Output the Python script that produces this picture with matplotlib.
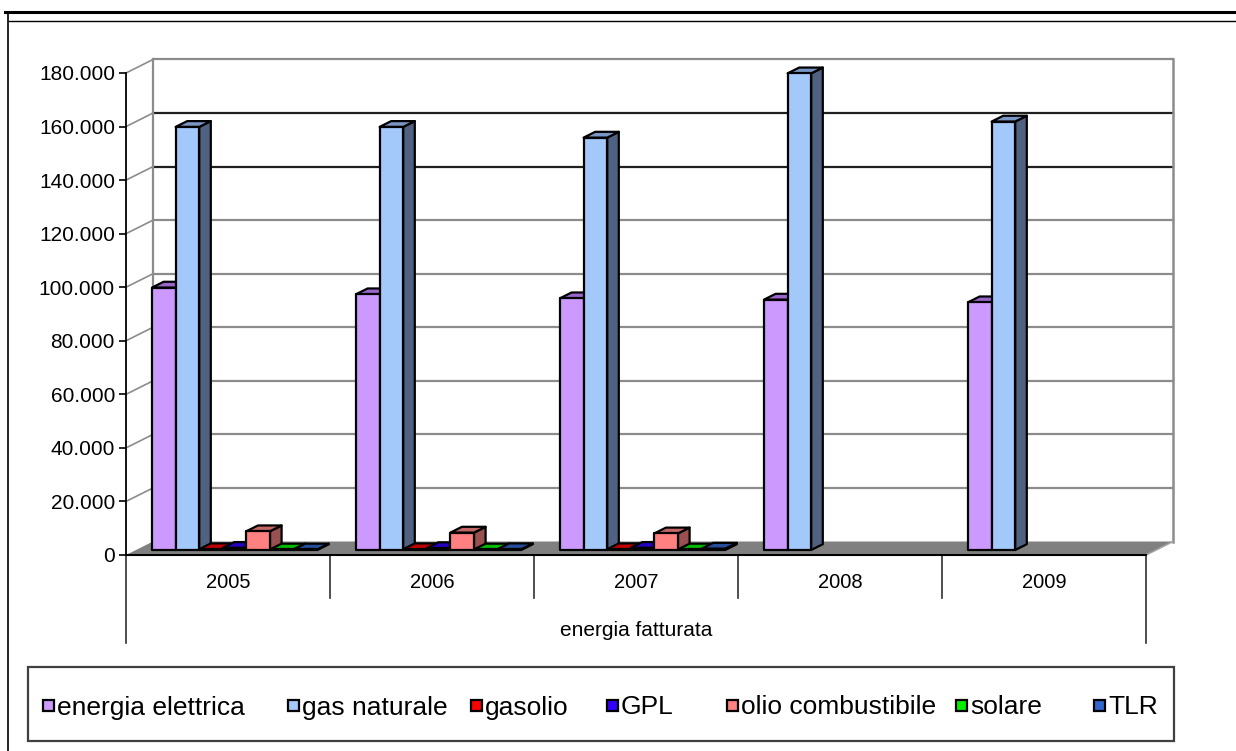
import matplotlib
matplotlib.use("Agg")
import matplotlib.pyplot as plt
from matplotlib.patches import Polygon, Rectangle
from matplotlib.lines import Line2D

plt.rcParams['font.family'] = ['Liberation Sans', 'DejaVu Sans']

# ---- data -------------------------------------------------------------
years = ['2005', '2006', '2007', '2008', '2009']
series = ['energia elettrica', 'gas naturale', 'gasolio', 'GPL',
          'olio combustibile', 'solare', 'TLR']
energia_elettrica = [98000, 95500, 94000, 93500, 92500]
gas_naturale = [158000, 158000, 154000, 178000, 160000]
gasolio = [300, 300, 300, 0, 0]
gpl = [800, 700, 800, 0, 0]
olio_combustibile = [7000, 6500, 6200, 0, 0]
solare = [200, 200, 200, 0, 0]
tlr = [200, 300, 500, 0, 0]
values = [energia_elettrica, gas_naturale, gasolio, gpl,
          olio_combustibile, solare, tlr]
y_ticks = list(range(0, 180001, 20000))
x_title = 'energia fatturata'

# front / top / side shades for each series
face_colors = ['#CC99FF', '#A3C8FA', '#FF0000', '#3300FF', '#FF8080', '#00F000', '#3366CC']
top_colors = ['#9966CC', '#7A96C4', '#C00000', '#2600BF', '#C46666', '#00B800', '#264D99']
side_colors = ['#7A52A3', '#4F6282', '#990000', '#1F0099', '#995050', '#009000', '#1F3D7A']

# ---- figure -----------------------------------------------------------
W, H = 1236, 751
fig = plt.figure(figsize=(W / 100, H / 100), dpi=100)
fig.patch.set_facecolor('white')


def fx(px):
    return px / W


def fy(py):
    return 1 - py / H


# page frame
fig.add_artist(Line2D([fx(5), fx(1236)], [fy(12), fy(12)], color='black', lw=2.2))
fig.add_artist(Line2D([fx(9), fx(1236)], [fy(21), fy(21)], color='black', lw=1.0))
fig.add_artist(Line2D([fx(8), fx(8)], [fy(12), fy(751)], color='black', lw=1.2))

ax = fig.add_axes([fx(126), fy(555), (1146 - 126) / W, (555 - 73) / H])
ax.set_xlim(0, len(years))
ymax = 180000
ax.set_ylim(0, ymax)
ax.patch.set_visible(False)
for s in ('top', 'right', 'bottom'):
    ax.spines[s].set_visible(False)
ax.spines['left'].set_linewidth(1.3)
ax.spines['left'].set_zorder(6)

ax.set_yticks(y_ticks)
ax.set_yticklabels([f'{v:,}'.replace(',', '.') for v in y_ticks])
ax.tick_params(axis='y', length=5, width=1.2, labelsize=15, pad=3)
ax.set_xticks([])

# depth of the box in data units
n = len(years)
DX = 27 / 204
DY = 13.5 / 482 * ymax

# floor
ax.add_patch(Polygon([(0, 0), (n, 0), (n + DX, DY), (DX, DY)], closed=True,
                     facecolor='#808080', edgecolor='none', zorder=1, clip_on=False))
ax.plot([0, n], [0, 0], color='black', lw=1.5, zorder=5, clip_on=False)
ax.plot([n, n + DX], [0, DY], color='#A0A0A0', lw=1.2, zorder=2, clip_on=False)

# back wall and side wall gridlines
for v in y_ticks[1:]:
    c = '#202020' if v in (140000, 160000) else '#8C8C8C'
    ax.plot([DX, n + DX], [v + DY, v + DY], color=c, lw=1.6, zorder=1, clip_on=False)
    ax.plot([0, DX], [v, v + DY], color='#8C8C8C', lw=1.2, zorder=1, clip_on=False)
ax.plot([n + DX, n + DX], [DY, ymax + DY], color='#8C8C8C', lw=1.8, zorder=1, clip_on=False)
ax.plot([DX, DX], [DY, ymax + DY], color='#8C8C8C', lw=1.6, zorder=1, clip_on=False)

# 3D columns
bw = 23.6 / 204
g0 = 16 / 204
f0, f1 = 0.37, 0.80
for i in range(n):
    for j, vals in enumerate(values):
        v = vals[i]
        if v <= 0:
            continue
        x0 = i + g0 + j * bw + f0 * DX
        x1 = x0 + bw
        b = f0 * DY
        t = b + v
        ddx = (f1 - f0) * DX
        ddy = (f1 - f0) * DY
        z = 3 + i * 0.01 + j * 0.001
        kw = dict(closed=True, edgecolor='black', lw=1.6, joinstyle='round',
                  clip_on=False, zorder=z)
        ax.add_patch(Polygon([(x1, b), (x1 + ddx, b + ddy), (x1 + ddx, t + ddy), (x1, t)],
                             facecolor=side_colors[j], **kw))
        ax.add_patch(Polygon([(x0, t), (x1, t), (x1 + ddx, t + ddy), (x0 + ddx, t + ddy)],
                             facecolor=top_colors[j], **kw))
        ax.add_patch(Polygon([(x0, b), (x1, b), (x1, t), (x0, t)],
                             facecolor=face_colors[j], **kw))

# category axis below the floor
xt = ax.get_xaxis_transform()
inner = -(598 - 555) / 482
outer = -(643 - 555) / 482
for k in range(n + 1):
    ax.plot([k, k], [0, outer if k in (0, n) else inner], color='#303030', lw=1.2,
            transform=xt, clip_on=False)
for i, yr in enumerate(years):
    ax.text(i + 0.5, -(582 - 555) / 482, yr, transform=xt, ha='center', va='center',
            fontsize=14.5)
ax.text(n / 2, -(630 - 555) / 482, x_title, transform=xt, ha='center', va='center',
        fontsize=15)

# legend
fig.add_artist(Rectangle((fx(28), fy(741)), (1174 - 28) / W, (741 - 667) / H,
                         transform=fig.transFigure, facecolor='white',
                         edgecolor='#404040', lw=1.6))
leg_x = [43, 288, 471, 607, 727, 956, 1094]
sq = 11
for j, name in enumerate(series):
    fig.add_artist(Rectangle((fx(leg_x[j]), fy(705 + sq / 2)), sq / W, sq / H,
                             transform=fig.transFigure, facecolor=face_colors[j],
                             edgecolor='black', lw=1.6))
    fig.text(fx(leg_x[j] + sq + 3), fy(705), name, ha='left', va='center_baseline',
             fontsize=19)

fig.savefig('out.png', dpi=100)
